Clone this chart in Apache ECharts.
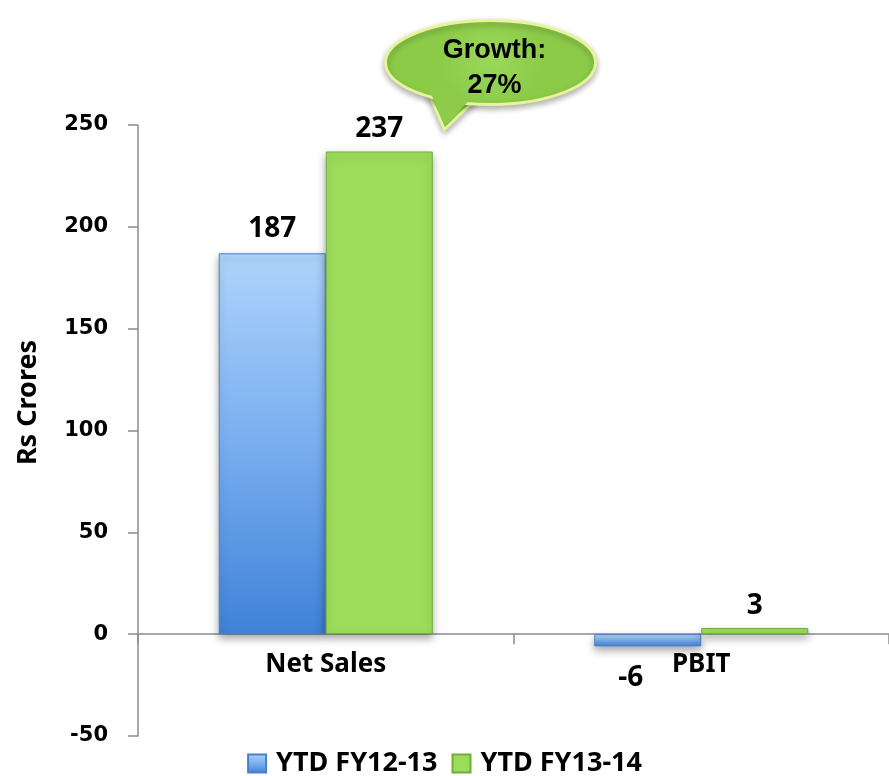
<!DOCTYPE html>
<html>
<head>
<meta charset="utf-8">
<style>
  html, body { margin: 0; padding: 0; background: #ffffff; }
  #chart { width: 889px; height: 776px; }
</style>
<script src="https://cdn.jsdelivr.net/npm/echarts@6/dist/echarts.min.js"></script>
</head>
<body>
<div id="chart"></div>
<script>
// Categories and series values (Rs Crores)
const categories = ['Net Sales', 'PBIT'];
const seriesNames = ['YTD FY12-13', 'YTD FY13-14'];
const fy1213 = [187, -6];
const fy1314 = [237, 3];
const yTicks = { min: -50, max: 250, interval: 50 };
const growthText = ['Growth:', '27%'];

const labelFont = '"Noto Sans", "Open Sans", sans-serif';
const tickFont = '"DejaVu Sans", Verdana, sans-serif';

const chart = echarts.init(document.getElementById('chart'));

const blueFill = {
  type: 'linear', x: 0, y: 0, x2: 0, y2: 1,
  colorStops: [
    { offset: 0, color: '#aed4fb' },
    { offset: 0.5, color: '#79aef0' },
    { offset: 1, color: '#3f82d8' }
  ]
};
const greenFill = '#9ddc5b';

chart.setOption({
  animation: false,
  grid: { left: 138, right: 0, top: 125, bottom: 40, containLabel: false },
  legend: {
    top: 745,
    left: 'center',
    itemWidth: 18,
    itemHeight: 18,
    itemGap: 14,
    icon: 'rect',
    textStyle: {
      fontFamily: labelFont, fontWeight: 700, fontSize: 27, color: '#000',
      padding: [0, 0, 0, 5]
    },
    data: seriesNames
  },
  xAxis: {
    type: 'category',
    data: categories,
    axisLine: { onZero: true, lineStyle: { color: '#8c8c8c', width: 1.5 } },
    axisTick: { show: true, length: 10, lineStyle: { color: '#8c8c8c', width: 1.5 } },
    axisLabel: {
      fontFamily: labelFont, fontWeight: 700, fontSize: 26, color: '#000', margin: -84
    }
  },
  yAxis: {
    type: 'value',
    min: yTicks.min,
    max: yTicks.max,
    interval: yTicks.interval,
    name: 'Rs Crores',
    nameLocation: 'middle',
    nameGap: 96,
    nameTextStyle: {
      fontFamily: labelFont, fontWeight: 700, fontSize: 27, color: '#000',
      padding: [0, 0, 0, 56]
    },
    splitLine: { show: false },
    axisLine: { show: true, lineStyle: { color: '#8c8c8c', width: 1.5 } },
    axisTick: { show: true, length: 10, lineStyle: { color: '#8c8c8c', width: 1.5 } },
    axisLabel: {
      fontFamily: tickFont, fontWeight: 'bold', fontSize: 21, color: '#000', margin: 30
    }
  },
  series: [
    {
      name: seriesNames[0],
      type: 'bar',
      data: fy1213.map(function (v) {
        return v < 0
          ? { value: v, label: { position: 'bottom', distance: 18, offset: [-17, 0] } }
          : v;
      }),
      barWidth: '28.5%',
      barGap: '0%',
      itemStyle: {
        color: blueFill,
        borderColor: '#4a80c8',
        borderWidth: 1,
        shadowColor: 'rgba(0,0,0,0.35)',
        shadowBlur: 8,
        shadowOffsetY: 4
      },
      label: {
        show: true, position: 'top', distance: 10,
        fontFamily: labelFont, fontWeight: 700, fontSize: 28, color: '#000'
      }
    },
    {
      name: seriesNames[1],
      type: 'bar',
      data: fy1314,
      barWidth: '28.5%',
      itemStyle: {
        color: greenFill,
        borderColor: '#6fae3a',
        borderWidth: 1,
        shadowColor: 'rgba(0,0,0,0.35)',
        shadowBlur: 8,
        shadowOffsetY: 4
      },
      label: {
        show: true, position: 'top', distance: 8,
        fontFamily: labelFont, fontWeight: 700, fontSize: 28, color: '#000'
      }
    }
  ],
  graphic: [
    {
      type: 'group',
      left: 384,
      top: 19,
      children: [
        {
          // speech-bubble tail
          type: 'polygon',
          shape: { points: [[40, 62], [61, 110], [92, 80]] },
          style: {
            fill: '#92cf50', stroke: '#e6f59a', lineWidth: 3,
            shadowColor: 'rgba(0,0,0,0.3)', shadowBlur: 6, shadowOffsetY: 3
          }
        },
        {
          type: 'ellipse',
          shape: { cx: 107, cy: 43, rx: 105, ry: 42 },
          style: {
            fill: {
              type: 'radial', x: 0.5, y: 0.45, r: 0.6,
              colorStops: [
                { offset: 0, color: '#9ad85a' },
                { offset: 1, color: '#8ccb48' }
              ]
            },
            stroke: '#e6f59a', lineWidth: 3,
            shadowColor: 'rgba(0,0,0,0.3)', shadowBlur: 6, shadowOffsetY: 3
          }
        },
        {
          // cover the seam between tail and ellipse
          type: 'polygon',
          shape: { points: [[43, 64], [61, 105], [89, 78]] },
          style: { fill: '#8ecb4b' }
        },
        {
          type: 'text',
          style: {
            text: growthText.join('\n'),
            x: 111, y: 49,
            align: 'center', verticalAlign: 'middle',
            font: 'bold 27px "Liberation Sans", Arial, sans-serif',
            lineHeight: 35,
            fill: '#000'
          }
        }
      ]
    }
  ]
});
</script>
</body>
</html>
